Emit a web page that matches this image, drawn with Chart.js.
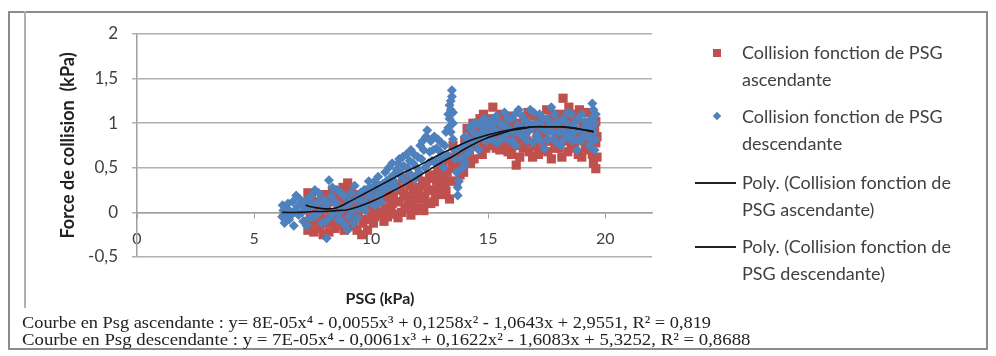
<!DOCTYPE html>
<html>
<head>
<meta charset="utf-8">
<script src="https://cdn.jsdelivr.net/npm/chart.js@4.4.1/dist/chart.umd.min.js"></script>
<style>
  body { margin: 0; width: 996px; height: 356px; position: relative; overflow: hidden; background: #fff; font-family: Lato, sans-serif; color: #404040; }
  #chart { position: absolute; left: 0; top: 0; }
  #frame { position: absolute; left: 8px; top: 11px; width: 980px; height: 339px; border: 2px solid #8c8c8c; box-sizing: border-box; }
  #inner { position: absolute; left: 24px; top: 11px; width: 2px; height: 297px; background: #b0b0b0; }
  #xtitle { position: absolute; left: 300px; width: 160px; top: 288px; text-align: center; font-weight: bold; font-size: 16px; color: #222; }
  .eq { position: absolute; left: 22px; font-family: "Liberation Serif", serif; font-size: 17px; color: #222; white-space: nowrap; line-height: 17px; transform-origin: 0 0; }
  .leg { position: absolute; left: 742px; font-size: 18px; line-height: 27px; color: #404040; white-space: nowrap; }
  .mk { position: absolute; }
</style>
</head>
<body>
<canvas id="chart" width="996" height="356"></canvas>
<div id="frame"></div>
<div id="inner"></div>
<div id="xtitle">PSG (kPa)</div>
<div class="eq" style="top:314px;transform:scaleX(1.08)">Courbe en Psg ascendante : y= 8E-05x⁴ - 0,0055x³ + 0,1258x² - 1,0643x + 2,9551, R² = 0,819</div>
<div class="eq" style="top:331px;transform:scaleX(1.105)">Courbe en Psg descendante : y = 7E-05x⁴ - 0,0061x³ + 0,1622x² - 1,6083x + 5,3252, R² = 0,8688</div>

<div class="mk" style="left:713px;top:49px;width:8px;height:8px;background:#C0504D"></div>
<div class="leg" style="top:39px">Collision fonction de PSG<br>ascendante</div>
<div class="mk" style="left:714px;top:113px;width:6px;height:6px;background:#4F81BD;transform:rotate(45deg)"></div>
<div class="leg" style="top:103px">Collision fonction de PSG<br>descendante</div>
<div class="mk" style="left:695px;top:182px;width:41px;height:2px;background:#222"></div>
<div class="leg" style="top:169px">Poly. (Collision fonction de<br>PSG ascendante)</div>
<div class="mk" style="left:695px;top:246px;width:41px;height:2px;background:#222"></div>
<div class="leg" style="top:233px">Poly. (Collision fonction de<br>PSG descendante)</div>

<script>
// PSG ascendante (red squares) [x, y]
const ascPoints = [
  [7.2,0.05],[7.3,-0.2],[7.3,0.22],[7.4,-0.05],[7.5,0.1],[7.6,-0.12],[7.7,0.0],[7.8,-0.18],[7.9,0.15],[8.0,-0.08],
  [8.1,0.05],[8.2,-0.22],[8.3,0.12],[8.4,-0.1],[8.5,0.2],[8.5,-0.02],[8.6,0.08],[8.7,-0.15],[8.8,0.28],[8.9,0.0],[9.0,0.33],[9.0,-0.1],
  [9.1,0.12],[9.2,-0.05],[9.3,0.2],[9.4,-0.2],[9.5,0.05],[9.6,-0.25],[9.7,0.15],[9.8,-0.08],[9.9,0.25],[10.0,0.02],
  [10.1,-0.12],[10.2,0.1],[10.3,0.3],[10.4,-0.03],[10.5,0.18],[10.6,0.05],[10.7,-0.05],[10.8,0.22],[10.9,0.1],[11.0,-0.02],
  [11.1,0.3],[11.2,0.12],[11.3,0.0],[11.4,0.2],[11.5,0.35],
  [11.6,0.08],[11.7,-0.03],[11.8,0.25],[11.9,0.15],[12.0,0.4],[12.1,0.05],[12.2,0.3],[12.3,0.18],[12.4,0.1],[12.5,0.42],
  [12.6,0.25],[12.7,0.12],[12.8,0.35],[12.9,0.5],[13.0,0.2],
  [13.1,0.4],[13.2,0.24],[13.3,0.6],[13.4,0.35],[13.5,0.75],[13.6,0.5],[13.7,0.65],[13.8,0.42],[13.9,0.58],[14.0,0.8],
  [14.1,0.94],[14.2,0.7],[14.3,0.85],[14.4,0.6],[14.5,0.98],[14.6,0.78],[14.7,0.9],[14.8,1.1],[14.9,0.72],[15.0,0.85],[15.1,1.05],[15.2,1.18],
  [15.3,0.8],[15.4,0.95],[15.5,0.7],[15.6,1.0],[15.7,0.88],[15.8,0.75],[15.9,1.08],[16.0,0.65],[16.1,0.92],[16.2,0.53],
  [16.3,0.82],[16.4,1.0],[16.5,0.72],[16.6,0.9],[16.7,1.12],[16.8,0.78],[16.9,0.62],[17.0,0.95],[17.1,0.85],[17.2,1.05],
  [17.3,0.7],[17.4,0.9],[17.5,1.15],[17.6,0.8],[17.7,0.6],[17.8,1.0],[17.9,0.88],[18.0,0.72],[18.1,1.1],[18.2,1.28],
  [18.3,0.95],[18.4,0.68],[18.5,0.85],[18.6,1.05],[18.7,0.75],[18.8,0.92],[18.9,1.15],[19.0,0.62],[19.1,0.82],[19.2,1.0],
  [19.3,0.7],[19.4,0.9],[19.5,0.55],[19.6,0.49],[19.6,0.78],[19.6,1.02],
  [7.25,-0.1],[7.35,0.08],[7.45,0.18],[7.55,-0.22],[7.65,0.05],[7.75,0.12],[7.85,-0.05],[7.95,-0.25],
  [8.05,0.2],[8.15,-0.12],[8.25,0.0],[8.35,0.25],[8.45,-0.18],[8.55,0.12],[8.65,-0.05],[8.75,0.15],[8.85,-0.2],[8.95,0.22],
  [9.05,0.05],[9.15,0.28],[9.25,-0.15],[9.35,0.1],[9.45,-0.02],[9.55,0.2],[9.65,-0.12],[9.75,0.05],[9.85,-0.2],[9.95,0.12],
  [10.05,0.2],[10.15,-0.05],[10.25,0.0],[10.35,0.12],[10.45,0.25],[10.55,-0.1],[10.65,0.15],[10.75,0.32],[10.85,0.0],[10.95,0.2],
  [11.05,0.12],[11.15,-0.06],[11.25,0.25],[11.35,0.38],[11.45,0.05],
  [11.55,0.18],[11.65,0.3],[11.75,0.1],[11.85,0.02],[11.95,0.28],[12.05,0.22],[12.15,0.15],[12.25,0.02],[12.35,0.35],[12.45,0.25],
  [12.55,0.1],[12.65,0.38],[12.75,0.2],[12.85,0.45],[12.95,0.3],
  [13.05,0.55],[13.15,0.3],[13.25,0.45],[13.35,0.15],[13.45,0.55],[13.55,0.62],[13.65,0.35],[13.75,0.55],[13.85,0.7],[13.95,0.45],
  [14.05,0.62],[14.15,0.82],[14.25,0.55],[14.35,1.0],[14.45,0.75],[14.55,0.88],[14.65,1.05],[14.75,0.65],[14.85,0.95],[14.95,1.02],
  [15.05,0.75],[15.15,0.92],
  [15.25,1.0],[15.35,0.72],[15.45,0.85],[15.55,1.1],[15.65,0.78],[15.75,0.95],[15.85,0.68],[15.95,0.85],[16.05,1.0],[16.15,0.75],
  [16.25,0.95],[16.35,0.62],[16.45,0.88],[16.55,1.05],[16.65,0.8],[16.75,0.68],[16.85,0.95],[16.95,1.08],[17.05,0.75],[17.15,0.65],
  [17.25,0.88],[17.35,1.0],[17.45,0.8],[17.55,0.68],[17.65,0.92],[17.75,1.1],[17.85,0.72],[17.95,0.98],[18.05,0.85],[18.15,0.62],
  [18.25,1.05],[18.35,0.8],[18.45,1.18],[18.55,0.72],[18.65,0.9],[18.75,1.1],[18.85,0.65],[18.95,0.85],[19.05,1.0],[19.15,0.72],
  [19.25,1.12],[19.35,0.88],[19.45,0.65],[19.55,0.95],[19.65,0.85],[19.65,0.62]
];

// PSG descendante (blue diamonds) [x, y]
const descPoints = [
  [6.2,-0.05],[6.25,0.02],[6.3,-0.12],[6.4,0.05],[6.5,-0.08],[6.6,0.0],[6.7,-0.15],[6.8,0.19],[6.85,0.06],[6.9,-0.03],[7.0,0.1],
  [7.1,-0.1],[7.2,0.04],[7.3,0.15],[7.4,-0.06],[7.5,0.08],[7.6,0.25],[7.7,-0.02],[7.8,0.12],[7.9,-0.12],[8.0,0.05],
  [8.1,-0.29],[8.2,0.36],[8.3,0.18],[8.4,0.0],[8.5,0.1],
  [8.6,-0.08],[8.7,0.22],[8.8,0.05],[8.9,-0.15],[9.0,-0.2],[9.1,0.12],[9.2,0.02],[9.3,0.3],[9.4,-0.06],[9.5,0.15],
  [9.6,0.05],[9.7,0.25],[9.8,0.1],[9.9,0.35],[10.0,0.18],[10.1,0.28],[10.2,0.08],[10.3,0.4],[10.4,0.22],[10.5,0.32],
  [10.6,0.45],[10.7,0.28],[10.8,0.38],[10.9,0.55],[11.0,0.35],[11.1,0.48],[11.2,0.6],[11.3,0.4],[11.4,0.52],[11.5,0.65],
  [11.6,0.45],[11.7,0.7],[11.8,0.55],[11.9,0.38],[12.0,0.62],
  [12.1,0.75],[12.2,0.8],[12.3,0.5],[12.4,0.92],[12.5,0.68],[12.6,0.58],[12.7,0.85],[12.8,0.72],[12.9,0.6],[13.0,0.78],
  [13.1,0.5],[13.2,0.9],
  [13.3,0.95],[13.35,1.05],[13.4,1.15],[13.4,1.25],[13.45,1.37],[13.5,1.0],[13.5,0.82],
  [13.6,0.6],[13.7,0.19],[13.75,0.35],[13.8,0.7],[13.9,0.5],[14.0,0.85],[14.1,0.65],[14.2,0.95],[14.3,0.78],[14.4,1.0],
  [14.5,0.88],[14.6,0.7],[14.7,1.02],[14.8,0.9],[14.9,0.8],[15.0,0.98],
  [15.1,0.85],[15.2,1.05],[15.3,0.92],[15.4,0.78],[15.5,1.0],[15.6,0.88],[15.7,1.12],[15.8,0.95],[15.9,0.8],[16.0,1.05],
  [16.1,0.9],[16.2,0.75],[16.3,1.15],[16.4,0.95],[16.5,0.85],[16.6,1.02],[16.7,0.9],[16.8,1.15],[16.9,0.78],[17.0,1.0],
  [17.1,0.88],[17.2,1.1],[17.3,0.95],[17.4,0.72],[17.5,1.05],[17.6,0.9],[17.7,1.18],[17.8,0.82],[17.9,1.0],[18.0,0.9],
  [18.1,0.75],[18.2,1.05],[18.3,0.88],[18.4,1.12],[18.5,0.95],[18.6,0.8],[18.7,1.0],[18.8,0.7],[18.9,0.92],[19.0,1.1],
  [19.1,0.85],[19.2,0.98],[19.3,0.75],[19.4,1.05],[19.45,1.22],[19.5,0.9],[19.55,0.7],[19.6,1.1],
  [6.22,0.08],[6.28,-0.02],[6.35,-0.1],[6.45,0.1],[6.55,-0.04],[6.65,0.12],[6.75,0.02],[6.95,0.15],
  [7.05,0.0],[7.15,0.12],[7.25,-0.15],[7.35,0.05],[7.45,0.18],[7.55,-0.05],[7.65,0.1],[7.75,0.22],[7.85,0.02],[7.95,0.15],
  [8.05,-0.1],[8.15,0.1],[8.25,-0.05],[8.35,0.28],[8.45,0.12],
  [8.55,0.25],[8.65,0.0],[8.75,-0.1],[8.85,0.18],[8.95,0.08],[9.05,-0.05],[9.15,0.22],[9.25,-0.12],[9.35,0.15],[9.45,0.05],
  [9.55,0.22],[9.65,0.12],[9.75,0.02],[9.85,0.2],[9.95,0.28],[10.05,0.1],[10.15,0.35],[10.25,0.2],[10.35,0.3],[10.45,0.12],
  [10.55,0.25],[10.65,0.35],[10.75,0.5],[10.85,0.3],[10.95,0.42],[11.05,0.28],[11.15,0.55],[11.25,0.45],[11.35,0.62],[11.45,0.35],
  [11.55,0.5],[11.65,0.58],[11.75,0.4],[11.85,0.65],[11.95,0.5],
  [12.05,0.45],[12.15,0.6],[12.25,0.7],[12.35,0.85],[12.45,0.55],[12.55,0.8],[12.65,0.7],[12.75,0.55],[12.85,0.82],[12.95,0.68],
  [13.05,0.6],[13.15,0.75],[13.25,0.65],
  [13.3,1.1],[13.35,1.2],[13.4,0.9],[13.45,1.3],[13.5,1.12],
  [13.55,0.7],[13.65,0.45],[13.7,0.28],[13.85,0.6],[13.95,0.75],[14.05,0.55],[14.15,0.82],[14.25,0.7],[14.35,0.9],[14.45,0.78],
  [14.55,1.0],[14.65,0.85],[14.75,0.95],[14.85,1.05],[14.95,0.88],
  [15.05,0.9],[15.15,1.0],[15.25,0.8],[15.35,1.08],[15.45,0.9],[15.55,0.82],[15.65,0.98],[15.75,0.88],[15.85,1.05],[15.95,0.92],
  [16.05,0.8],[16.15,1.1],[16.25,0.98],[16.35,0.88],[16.45,1.08],[16.55,0.92],[16.65,0.8],[16.75,1.0],[16.85,0.95],[16.95,1.12],
  [17.05,0.85],[17.15,0.98],[17.25,0.8],[17.35,1.05],[17.45,0.92],[17.55,0.82],[17.65,1.0],[17.75,0.9],[17.85,1.1],[17.95,0.78],
  [18.05,1.02],[18.15,0.9],[18.25,0.82],[18.35,1.0],[18.45,0.85],[18.55,1.1],[18.65,0.9],[18.75,0.82],[18.85,1.05],[18.95,0.8],
  [19.05,0.92],[19.15,1.02],[19.25,0.85],[19.35,0.95],[19.45,0.8],[19.5,1.15],[19.55,1.0],[19.6,0.82]
];

// trend curves
const ascTrendX = [7.2, 7.5, 8, 8.5, 9, 9.5, 10, 10.5, 11, 11.5, 12, 12.5, 13, 13.5, 14, 14.5, 15, 15.5, 16, 16.5, 17, 17.5, 18, 18.5, 19, 19.5];
const ascTrendY = [0.08, 0.06, 0.04, 0.05, 0.11, 0.18, 0.25, 0.32, 0.39, 0.46, 0.52, 0.59, 0.66, 0.72, 0.78, 0.83, 0.87, 0.9, 0.93, 0.95, 0.96, 0.96, 0.96, 0.95, 0.93, 0.91];
const descTrendX = [6.2, 7, 7.5, 8, 8.5, 9, 9.5, 10, 10.5, 11, 11.5, 12, 12.5, 13, 13.5, 14, 14.5, 15, 15.5, 16, 16.5, 17, 17.5, 18, 18.5, 19, 19.5];
const descTrendY = [0.0, 0.0, 0.01, 0.01, 0.02, 0.03, 0.07, 0.12, 0.18, 0.25, 0.32, 0.4, 0.48, 0.56, 0.63, 0.71, 0.78, 0.84, 0.88, 0.92, 0.94, 0.96, 0.96, 0.96, 0.95, 0.93, 0.9];

const yTicks = [-0.5, 0, 0.5, 1, 1.5, 2];
const xTicks = [0, 5, 10, 15, 20];

const toXY = p => ({ x: p[0], y: p[1] });
const trend = (xs, ys) => xs.map((x, i) => ({ x: x, y: ys[i] }));

const data = {
  datasets: [
    {
      label: "Collision fonction de PSG ascendante",
      data: ascPoints.map(toXY),
      pointStyle: "rect",
      pointRadius: 6.5,
      backgroundColor: "#C0504D",
      borderColor: "#C0504D",
      borderWidth: 0,
      order: 3,
    },
    {
      label: "Collision fonction de PSG descendante",
      data: descPoints.map(toXY),
      pointStyle: "rectRot",
      pointRadius: 5,
      backgroundColor: "#4F81BD",
      borderColor: "#4F81BD",
      borderWidth: 0,
      order: 2,
    },
    {
      label: "Poly. (Collision fonction de PSG ascendante)",
      data: trend(ascTrendX, ascTrendY),
      showLine: true,
      pointRadius: 0,
      borderColor: "#111",
      borderWidth: 1.6,
      tension: 0.4,
      order: 1,
    },
    {
      label: "Poly. (Collision fonction de PSG descendante)",
      data: trend(descTrendX, descTrendY),
      showLine: true,
      pointRadius: 0,
      borderColor: "#111",
      borderWidth: 1.6,
      tension: 0.4,
      order: 0,
    },
  ],
};

let config = {
  type: "scatter",
  data: data,
  options: {
    responsive: false,
    animation: false,
    layout: {
      padding: { left: 53, right: 344, top: 34, bottom: 99 },
    },
    scales: {
      x: {
        type: "linear",
        min: 0,
        max: 22,
        position: { y: 0 },
        afterBuildTicks: (axis) => { axis.ticks = xTicks.map(v => ({ value: v })); },
        grid: { drawOnChartArea: false, drawTicks: true, tickLength: 5, color: "#a0a0a0" },
        border: { color: "#a0a0a0", width: 1.5 },
        ticks: { padding: 12, color: "#404040", font: { family: "Lato", size: 16 }, maxRotation: 0 },
      },
      y: {
        min: -0.5,
        max: 2,
        afterBuildTicks: (axis) => { axis.ticks = yTicks.map(v => ({ value: v })); },
        afterFit: (axis) => { axis.width = 84; },
        grid: { color: "#b0b0b0", lineWidth: 1.5, tickLength: 5 },
        border: { color: "#a0a0a0", width: 1.5 },
        ticks: {
          padding: 14,
          color: "#404040",
          font: { family: "Lato", size: 17 },
          callback: (v) => String(v).replace(".", ","),
        },
        title: {
          display: true,
          text: "Force de collision  (kPa)",
          color: "#222",
          font: { family: "Lato", size: 18, weight: "bold" },
        },
      },
    },
    plugins: {
      legend: { display: false },
      tooltip: { enabled: false },
    },
  },
};

const ctx = document.getElementById("chart").getContext("2d");
let myChart = new Chart(ctx, config);
</script>
</body>
</html>
